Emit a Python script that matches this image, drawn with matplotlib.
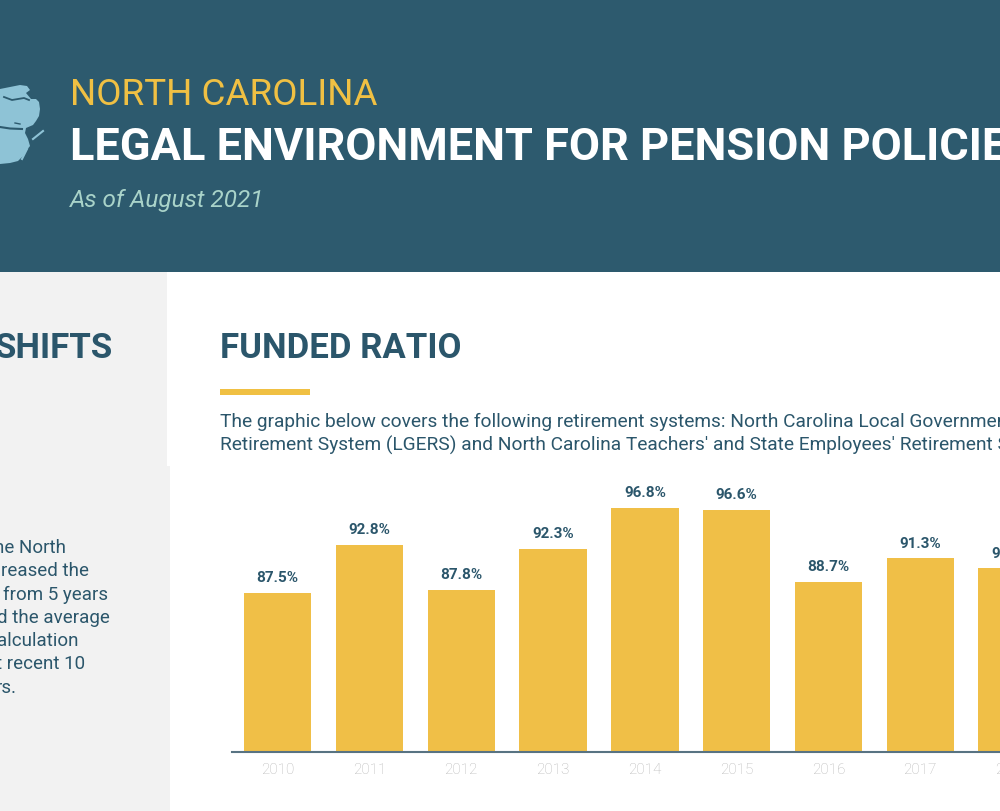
import matplotlib
matplotlib.use("Agg")
import matplotlib.pyplot as plt
from matplotlib.patches import Rectangle, Polygon

# funded ratio by year (only the part visible in the crop)
years = ['2010', '2011', '2012', '2013', '2014', '2015', '2016', '2017', '2018']
funded = [87.5, 92.8, 87.8, 92.3, 96.8, 96.6, 88.7, 91.3, 90.2]
labels = ['87.5%', '92.8%', '87.8%', '92.3%', '96.8%', '96.6%', '88.7%', '91.3%', '90.2%']

# left column text fragments (clipped by the page edge)
side_lines = ['he North', 'reased the', 'from 5 years', 'd the average',
              'alculation', 't recent 10', 'rs.']
side_right = [66, 89, 108, 110, 78, 85, 17]

HEADER = '#2d5a6e'
YELLOW = '#f0c043'
TEAL = '#2b566b'
MINT = '#a9d3c9'
MAP = '#8ec3d6'
PANEL = '#f2f2f2'
BAR = '#f0bf47'

plt.rcParams['font.family'] = ['Roboto', 'DejaVu Sans']

W, H = 1000, 812
fig = plt.figure(figsize=(W / 100, H / 100), dpi=100)

# background layer in pixel coordinates
bg = fig.add_axes([0, 0, 1, 1], zorder=0)
bg.set_xlim(0, W)
bg.set_ylim(H, 0)
bg.axis('off')

bg.add_patch(Rectangle((0, 0), W, 272.5, color=HEADER, lw=0))
bg.add_patch(Rectangle((0, 272.5), 167, 194, color=PANEL, lw=0))
bg.add_patch(Rectangle((0, 466.5), 170, H - 466.5, color=PANEL, lw=0))

# bit of the state map poking in from the left
nc = [(0, 90), (10, 88), (20, 86), (27, 87), (30, 91), (26, 94), (31, 100),
      (36, 100), (39, 103), (40, 110), (39, 117), (36, 122), (33, 126),
      (26, 129), (25, 134), (28, 140), (30, 147), (26, 152), (23, 157),
      (18, 162), (10, 164), (0, 165)]
bg.add_patch(Polygon(nc, closed=True, color=MAP, lw=0))
bg.plot([33, 43], [140, 132], color=MAP, lw=1.5)
bg.plot([22, 27], [160, 150], color=MAP, lw=1.5)
bg.plot([4, 12, 24, 29], [98, 101, 99, 101], color=HEADER, lw=1.3)
bg.plot([0, 10, 22], [128, 129.5, 130], color=HEADER, lw=1.5)
bg.plot([15, 20], [124, 125], color=HEADER, lw=1)

bg.text(70, 105, 'NORTH CAROLINA', color=YELLOW, fontsize=26.5, va='baseline')
bg.text(70, 160, 'LEGAL ENVIRONMENT FOR PENSION POLICIES', color='white',
        fontsize=32.5, fontweight='bold', va='baseline')
bg.text(70, 207, 'As of August 2021', color=MINT, fontsize=17.5,
        style='italic', va='baseline')

bg.text(113, 358, 'SHIFTS', color=TEAL, fontsize=25, fontweight='bold',
        ha='right', va='baseline')
for i, (txt, xr) in enumerate(zip(side_lines, side_right)):
    bg.text(xr, 553 + i * 23.3, txt, color=TEAL, fontsize=13.5,
            ha='right', va='baseline')

bg.text(220, 358, 'FUNDED RATIO', color=TEAL, fontsize=25, fontweight='bold',
        va='baseline')
bg.add_patch(Rectangle((220, 389.5), 90, 6, color=YELLOW, lw=0))
bg.text(220, 427, "The graphic below covers the following retirement systems: "
        "North Carolina Local Governmental Employees'", color=TEAL,
        fontsize=13.8, va='baseline')
bg.text(220, 451, "Retirement System (LGERS) and North Carolina Teachers' and "
        "State Employees' Retirement System (TSERS).", color=TEAL,
        fontsize=13.8, va='baseline')

# the bar chart, running off the right edge
pitch = 91.8
left_px, base_px = 231.75, 753
ax = fig.add_axes([left_px / W, (H - base_px) / H, 11 * pitch / W, 273 / H],
                  zorder=1)
ax.set_facecolor('none')
x = list(range(len(years)))
ax.bar(x, funded, width=0.734, color=BAR, zorder=2)
for xi, v, lab in zip(x, funded, labels):
    ax.annotate(lab, (xi, v), xytext=(0, 8.4), textcoords='offset points',
                ha='center', va='baseline', fontsize=11, fontweight='bold',
                color=TEAL, annotation_clip=False)
ax.set_xlim(-0.5, 10.5)
ax.set_ylim(70, 100)
ax.set_xticks(x)
ax.set_xticklabels(years, color='#b8b8b8', fontsize=11, fontweight='light')
ax.tick_params(axis='x', length=0, pad=7)
ax.set_yticks([])
for s in ['top', 'right', 'left']:
    ax.spines[s].set_visible(False)
ax.spines['bottom'].set_color('#587382')
ax.spines['bottom'].set_linewidth(1.5)

fig.savefig('out.png', dpi=100)
